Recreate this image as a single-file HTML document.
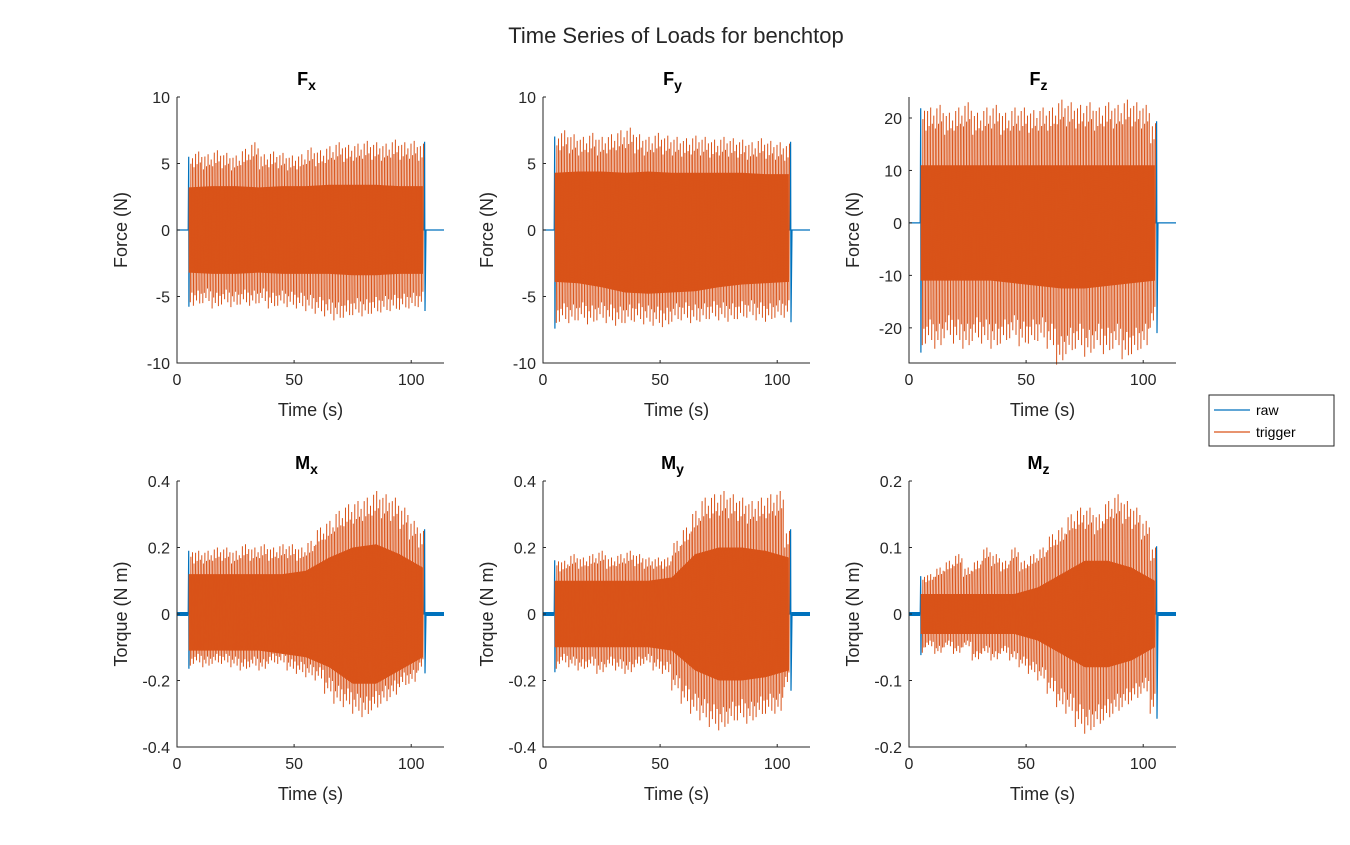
<!DOCTYPE html>
<html><head><meta charset="utf-8"><style>
body{margin:0;background:#fff;width:1350px;height:840px;overflow:hidden;font-family:"Liberation Sans",Arial,sans-serif}
</style></head><body>
<svg id="fig" width="1350" height="840" xmlns="http://www.w3.org/2000/svg" font-family="Liberation Sans, Arial, sans-serif">
<rect width="1350" height="840" fill="#fff"/>
<text x="676" y="43" font-size="22" text-anchor="middle" fill="#262626">Time Series of Loads for benchtop</text>
<g>
<rect x="1209" y="395" width="125" height="51" fill="#fff" stroke="#262626" stroke-width="1"/>
<g><line x1="1214" y1="410" x2="1250" y2="410" stroke="#0072BD" stroke-width="1.3"/><text x="1256" y="415" font-size="14" fill="#000">raw</text></g>
<g><line x1="1214" y1="432" x2="1250" y2="432" stroke="#D95319" stroke-width="1.3"/><text x="1256" y="437" font-size="14" fill="#000">trigger</text></g>
</g>
</svg>
<script>
const times=[5,9,13,17,21,25,29,33,37,41,45,49,53,57,61,65,69,73,77,81,85,89,93,97,101,105];
const coreTimes=[5,15,25,35,45,55,65,75,85,95,105];
const fxUp=[5.8,5.9,5.7,6.0,5.8,5.6,6.1,6.6,5.7,5.9,5.8,5.6,5.7,6.2,6.0,6.3,6.6,6.4,6.5,6.7,6.6,6.5,6.8,6.6,6.7,6.5];
const fxLo=[-5.6,-5.7,-5.5,-5.9,-5.6,-5.8,-5.6,-5.7,-5.5,-5.9,-5.7,-5.8,-5.9,-6.1,-6.3,-6.5,-6.8,-6.6,-6.4,-6.5,-6.3,-6.2,-6.1,-6.0,-5.9,-5.8];
const fxCoreUp=[3.2,3.3,3.3,3.2,3.3,3.3,3.4,3.4,3.4,3.3,3.3];
const fxCoreLo=[-3.2,-3.3,-3.3,-3.2,-3.3,-3.3,-3.3,-3.4,-3.4,-3.3,-3.3];
const fyUp=[7.4,7.5,7.2,7.0,7.3,7.0,7.2,7.5,7.7,7.2,7.0,7.3,7.1,7.0,6.9,7.1,7.0,6.8,7.0,6.9,6.8,6.6,6.9,6.7,6.6,6.5];
const fyLo=[-7.2,-6.9,-7.0,-6.8,-7.1,-6.8,-7.0,-7.2,-7.0,-6.9,-7.1,-7.2,-7.3,-6.9,-6.8,-7.0,-6.9,-6.7,-6.8,-6.9,-6.7,-6.6,-6.8,-6.9,-6.6,-6.6];
const fyCoreUp=[4.3,4.4,4.4,4.3,4.4,4.3,4.3,4.3,4.3,4.2,4.2];
const fyCoreLo=[-3.9,-4.0,-4.3,-4.7,-4.8,-4.7,-4.6,-4.3,-4.1,-4.0,-3.9];
const fzUp=[23,22,22.5,21,22,23,21,22,22.5,21,22,22,21.5,22,22,23.5,23,22.5,23,22,23,22.5,23.5,23,22.5,19];
const fzLo=[-24,-23,-24,-22,-23,-24,-22.5,-23,-24,-23,-22,-23.5,-23,-22.5,-24,-27,-25,-24,-25.5,-24,-25,-24,-26,-25,-24,-20];
const fzCoreUp=[11,11,11,11,11,11,11,11,11,11,11];
const fzCoreLo=[-11,-11,-11,-11,-11.5,-12,-12.5,-12.5,-12,-11.5,-11];
const mxUp=[0.20,0.19,0.19,0.20,0.20,0.19,0.21,0.20,0.21,0.20,0.21,0.21,0.20,0.22,0.26,0.28,0.31,0.33,0.34,0.35,0.37,0.36,0.35,0.32,0.28,0.25];
const mxLo=[-0.16,-0.15,-0.16,-0.15,-0.15,-0.16,-0.17,-0.16,-0.17,-0.15,-0.15,-0.17,-0.18,-0.19,-0.20,-0.24,-0.27,-0.28,-0.30,-0.31,-0.29,-0.27,-0.25,-0.22,-0.21,-0.17];
const mxCoreUp=[0.12,0.12,0.12,0.12,0.12,0.13,0.17,0.20,0.21,0.18,0.14];
const mxCoreLo=[-0.11,-0.11,-0.11,-0.11,-0.12,-0.13,-0.16,-0.21,-0.21,-0.17,-0.13];
const myUp=[0.17,0.16,0.18,0.17,0.18,0.19,0.17,0.18,0.19,0.18,0.17,0.17,0.17,0.22,0.26,0.31,0.35,0.36,0.37,0.36,0.35,0.34,0.35,0.36,0.37,0.25];
const myLo=[-0.17,-0.15,-0.16,-0.17,-0.16,-0.18,-0.16,-0.17,-0.18,-0.16,-0.15,-0.17,-0.18,-0.23,-0.27,-0.30,-0.32,-0.34,-0.35,-0.33,-0.32,-0.33,-0.31,-0.30,-0.30,-0.22];
const myCoreUp=[0.10,0.10,0.10,0.10,0.10,0.11,0.18,0.20,0.20,0.19,0.17];
const myCoreLo=[-0.10,-0.10,-0.10,-0.10,-0.10,-0.11,-0.17,-0.20,-0.20,-0.19,-0.17];
const mzUp=[0.06,0.06,0.07,0.08,0.09,0.07,0.08,0.10,0.09,0.08,0.10,0.08,0.09,0.10,0.12,0.13,0.15,0.16,0.16,0.15,0.17,0.18,0.17,0.16,0.14,0.10];
const mzLo=[-0.06,-0.05,-0.06,-0.05,-0.06,-0.05,-0.07,-0.06,-0.07,-0.06,-0.07,-0.08,-0.09,-0.10,-0.12,-0.14,-0.15,-0.17,-0.18,-0.17,-0.16,-0.15,-0.14,-0.13,-0.12,-0.15];
const mzCoreUp=[0.03,0.03,0.03,0.03,0.03,0.04,0.06,0.08,0.08,0.07,0.05];
const mzCoreLo=[-0.03,-0.03,-0.03,-0.03,-0.03,-0.04,-0.06,-0.08,-0.08,-0.07,-0.05];
const xTicks=[0,50,100];
const panels=[
 {id:'fx',title:'F',sub:'x',x0:177,y0:97,ylab:'Force (N)',ymin:-10,ymax:10,yt:[-10,-5,0,5,10],up:fxUp,lo:fxLo,cu:fxCoreUp,cl:fxCoreLo,noise:0},
 {id:'fy',title:'F',sub:'y',x0:543,y0:97,ylab:'Force (N)',ymin:-10,ymax:10,yt:[-10,-5,0,5,10],up:fyUp,lo:fyLo,cu:fyCoreUp,cl:fyCoreLo,noise:0},
 {id:'fz',title:'F',sub:'z',x0:909,y0:97,ylab:'Force (N)',ymin:-26.7,ymax:24,yt:[-20,-10,0,10,20],up:fzUp,lo:fzLo,cu:fzCoreUp,cl:fzCoreLo,noise:0},
 {id:'mx',title:'M',sub:'x',x0:177,y0:481,ylab:'Torque (N m)',ymin:-0.4,ymax:0.4,yt:[-0.4,-0.2,0,0.2,0.4],up:mxUp,lo:mxLo,cu:mxCoreUp,cl:mxCoreLo,noise:0.008},
 {id:'my',title:'M',sub:'y',x0:543,y0:481,ylab:'Torque (N m)',ymin:-0.4,ymax:0.4,yt:[-0.4,-0.2,0,0.2,0.4],up:myUp,lo:myLo,cu:myCoreUp,cl:myCoreLo,noise:0.006},
 {id:'mz',title:'M',sub:'z',x0:909,y0:481,ylab:'Torque (N m)',ymin:-0.2,ymax:0.2,yt:[-0.2,-0.1,0,0.1,0.2],up:mzUp,lo:mzLo,cu:mzCoreUp,cl:mzCoreLo,noise:0.003}
];
const W=267,H=266,XMAX=114;
const spikeScale=[1,0.86,0.93,0.8,0.97,0.84];
const svg=document.getElementById('fig');
const NS='http://www.w3.org/2000/svg';
function mk(tag,attrs,parent){const e=document.createElementNS(NS,tag);for(const k in attrs)e.setAttribute(k,attrs[k]);parent.appendChild(e);return e;}
panels.forEach(p=>{
 const g=mk('g',{},svg);
 
 
 const sx=t=>p.x0+t/XMAX*W;
 const sy=v=>p.y0+H-(v-p.ymin)/(p.ymax-p.ymin)*H;
 const n=p.up.length;
 // raw series (drawn first, under trigger)
 const raw=mk('polyline',{fill:'none',stroke:'#0072BD','stroke-width':1.2},g);
 
 
 let rp=[[0,0],[4.6,0],[4.8,0],[5,p.up[0]*0.95],[5.1,p.lo[0]*1.03],[5.3,0],[105.5,0],[105.7,p.up[n-1]*1.02],[105.9,p.lo[n-1]*1.05],[106.3,0],[XMAX,0]];
 raw.setAttribute('points',rp.map(a=>sx(a[0]).toFixed(1)+','+sy(a[1]).toFixed(1)).join(' '));
 if(p.noise>0){
  const nb=mk('path',{stroke:'#0072BD','stroke-width':4,fill:'none'},g);
  
  
  nb.setAttribute('d',`M${sx(0)},${sy(0)}H${sx(4.8)}M${sx(106)},${sy(0)}H${sx(XMAX)}`);
 }
 // trigger core
 let cpts=p.cu.map((v,i)=>sx(coreTimes[i]).toFixed(1)+','+sy(v).toFixed(1));
 for(let i=p.cl.length-1;i>=0;i--)cpts.push(sx(coreTimes[i]).toFixed(1)+','+sy(p.cl[i]).toFixed(1));
 const core=mk('polygon',{points:cpts.join(' '),fill:'#D95319'},g);
 
 
 // trigger spikes
 let d='';
 times.forEach((t,i)=>{
  for(let k=0;k<6;k++){
   let tt=t-2+k*0.67;
   if(tt<5.3||tt>105.2)continue;
   const s=spikeScale[k];
   d+=`M${sx(tt).toFixed(1)},${sy(p.lo[i]*s).toFixed(1)}L${(sx(tt)+0.6).toFixed(1)},${sy(p.up[i]*spikeScale[(k+3)%6]).toFixed(1)}`;
  }
 });
 const tr=mk('path',{d:d,fill:'none',stroke:'#D95319','stroke-width':1},g);
 
 
 // axes
 const ax=mk('path',{d:`M${p.x0},${p.y0}V${p.y0+H}H${p.x0+W}`,fill:'none',stroke:'#262626','stroke-width':1},g);
 
 
 xTicks.forEach(t=>{
  mk('line',{x1:sx(t),x2:sx(t),y1:p.y0+H,y2:p.y0+H-3,stroke:'#262626'},g);
  const tx=mk('text',{x:sx(t),y:p.y0+H+22,'font-size':16,'text-anchor':'middle',fill:'#262626'},g);
  tx.textContent=t;
  
  
 });
 p.yt.forEach(v=>{
  mk('line',{x1:p.x0,x2:p.x0+3,y1:sy(v),y2:sy(v),stroke:'#262626'},g);
  const ty=mk('text',{x:p.x0-7,y:sy(v)+6,'font-size':16,'text-anchor':'end',fill:'#262626'},g);
  ty.textContent=v;
  
  
 });
 const xl=mk('text',{x:p.x0+W/2,y:p.y0+H+53,'font-size':18,'text-anchor':'middle',fill:'#262626'},g);
 xl.textContent='Time (s)';
 
 
 const yl=mk('text',{x:0,y:0,'font-size':18,'text-anchor':'middle',fill:'#262626',transform:`translate(${p.x0-50},${p.y0+H/2}) rotate(-90)`},g);
 yl.textContent=p.ylab;
 
 
 const tt=mk('text',{x:p.x0+W/2-4,y:p.y0-12,'font-size':18,'font-weight':'bold','text-anchor':'middle',fill:'#000'},g);
 
 
 tt.textContent=p.title;
 const ts=mk('tspan',{dy:5,'font-size':14},tt);
 ts.textContent=p.sub;
});
</script>
</body></html>
